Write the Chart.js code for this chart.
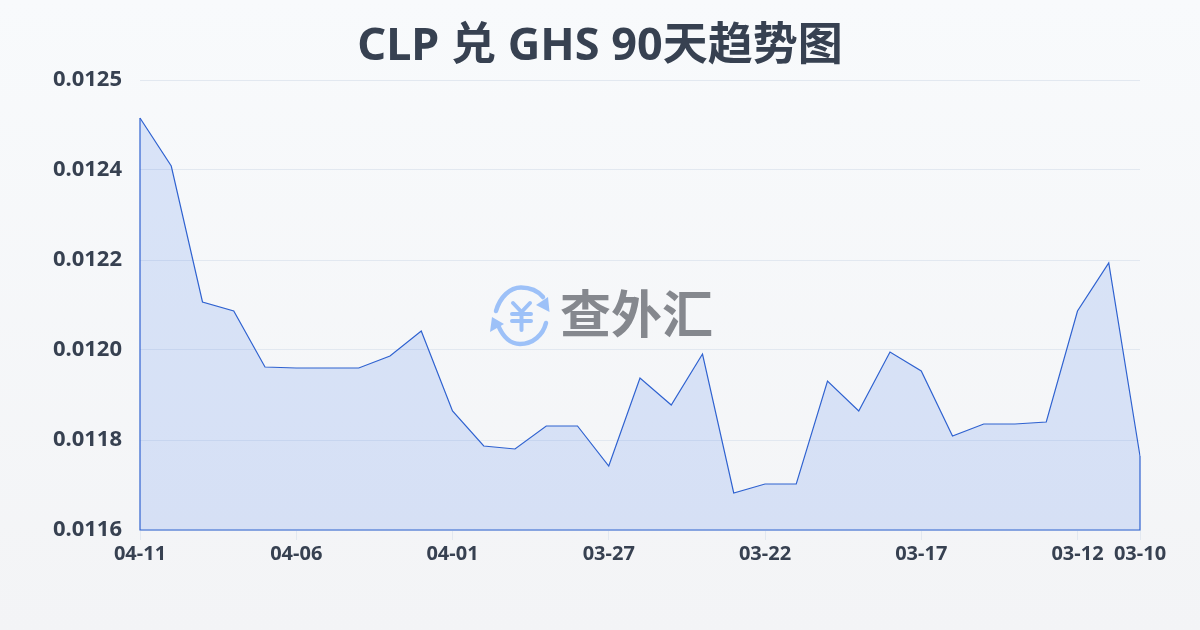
<!DOCTYPE html>
<html>
<head>
<meta charset="utf-8">
<title>CLP 兑 GHS 90天趋势图</title>
<script src="https://cdn.jsdelivr.net/npm/chart.js@4"></script>
<style>
    html, body { margin: 0; padding: 0; }
    body { width: 1200px; height: 630px; overflow: hidden; background: linear-gradient(180deg, #f8fafc, #f3f4f6); }
    canvas { display: block; }
</style>
</head>
<body>
<canvas id="chart" width="1200" height="630"></canvas>
<script>
const titleText = 'CLP 兑 GHS 90天趋势图';
const watermarkText = '查外汇';
const fontFamily = '"Noto Sans", "Noto Sans CJK SC", sans-serif';

const dates = [
    '04-11', '04-10', '04-09', '04-08', '04-07', '04-06', '04-05', '04-04', '04-03', '04-02', '04-01',
    '03-31', '03-30', '03-29', '03-28', '03-27', '03-26', '03-25', '03-24', '03-23', '03-22',
    '03-21', '03-20', '03-19', '03-18', '03-17', '03-16', '03-15', '03-14', '03-13', '03-12', '03-11', '03-10'
];
const rates = [
    0.012464, 0.012368, 0.012096, 0.012078, 0.011966, 0.011964, 0.011964, 0.011964, 0.011988, 0.012038, 0.011878,
    0.011808, 0.011802, 0.011848, 0.011848, 0.011768, 0.011944, 0.011890, 0.011992, 0.011714, 0.011732,
    0.011732, 0.011938, 0.011878, 0.011996, 0.011958, 0.011828, 0.011852, 0.011852, 0.011856, 0.012078, 0.012174, 0.011788
];
const xTickDates = ['04-11', '04-06', '04-01', '03-27', '03-22', '03-17', '03-12', '03-10'];
const yMin = 0.01164;
const yMax = 0.01254;
const yStep = 0.00018;

// y labels are wider than the axis box once the title is centred, stop them being clipped
const unclipYLabels = {
    id: 'unclipYLabels',
    afterLayout(chart) {
        chart.scales.y.left = 0;
    }
};

// closes the line down to the axis, the fill plugin only fills it
const areaOutline = {
    id: 'areaOutline',
    afterDatasetsDraw(chart) {
        const points = chart.getDatasetMeta(0).data;
        const first = points[0];
        const last = points[points.length - 1];
        const bottom = chart.chartArea.bottom;
        const ctx = chart.ctx;
        ctx.save();
        ctx.strokeStyle = '#2f62d0';
        ctx.lineWidth = 1.2;
        ctx.beginPath();
        ctx.moveTo(first.x, first.y);
        ctx.lineTo(first.x, bottom);
        ctx.lineTo(last.x, bottom);
        ctx.lineTo(last.x, last.y);
        ctx.stroke();
        ctx.restore();
    }
};

// logo in the middle of the plot
const watermark = {
    id: 'watermark',
    beforeDatasetsDraw(chart) {
        const ctx = chart.ctx;
        ctx.save();
        ctx.strokeStyle = '#9dc1f8';
        ctx.fillStyle = '#9dc1f8';
        ctx.lineWidth = 4.5;
        ctx.lineCap = 'round';
        ctx.lineJoin = 'round';
        ctx.beginPath();
        ctx.moveTo(496, 311);
        ctx.bezierCurveTo(500, 297, 510, 287.5, 521, 287.5);
        ctx.bezierCurveTo(530, 287.5, 538, 291, 543, 297);
        ctx.moveTo(498, 325);
        ctx.bezierCurveTo(503, 337, 511, 344, 520, 344);
        ctx.bezierCurveTo(533, 344, 543, 335, 546, 323);
        ctx.stroke();
        // arrow heads
        ctx.beginPath();
        ctx.moveTo(548, 297);
        ctx.lineTo(549.5, 312);
        ctx.lineTo(536, 305);
        ctx.closePath();
        ctx.moveTo(492, 317);
        ctx.lineTo(490, 332);
        ctx.lineTo(504, 324);
        ctx.closePath();
        ctx.fill();
        // yen sign
        ctx.lineWidth = 4;
        ctx.beginPath();
        ctx.moveTo(513, 303);
        ctx.lineTo(521.5, 312);
        ctx.lineTo(530, 303);
        ctx.moveTo(521.5, 312);
        ctx.lineTo(521.5, 330);
        ctx.moveTo(512, 314);
        ctx.lineTo(531, 314);
        ctx.moveTo(512, 321);
        ctx.lineTo(531, 321);
        ctx.stroke();
        ctx.fillStyle = '#85888e';
        ctx.font = 'bold 51px ' + fontFamily;
        ctx.textAlign = 'left';
        ctx.textBaseline = 'middle';
        ctx.fillText(watermarkText, 560, 318);
        ctx.restore();
    }
};

new Chart(document.getElementById('chart').getContext('2d'), {
    type: 'line',
    data: {
        labels: dates,
        datasets: [{
            data: rates,
            borderColor: '#2f62d0',
            borderWidth: 1.2,
            backgroundColor: 'rgba(37, 99, 235, 0.14)',
            fill: 'origin',
            tension: 0,
            pointRadius: 0
        }]
    },
    plugins: [watermark, areaOutline, unclipYLabels],
    options: {
        responsive: false,
        animation: false,
        layout: { padding: { top: 22, right: 60, bottom: 50, left: 60 } },
        plugins: {
            legend: { display: false },
            tooltip: { enabled: false },
            title: {
                display: true,
                text: titleText,
                color: '#374151',
                font: { family: fontFamily, size: 45, weight: 'bold', lineHeight: 1.1 },
                padding: { top: 0, bottom: 8.5 }
            }
        },
        scales: {
            x: {
                offset: false,
                grid: { drawOnChartArea: false, drawTicks: true, tickLength: 10, color: '#e2e8f0' },
                border: { display: false },
                afterBuildTicks(axis) {
                    axis.ticks = axis.ticks.filter(t => xTickDates.includes(dates[t.value]));
                },
                afterFit(axis) { axis.height = 50; },
                ticks: {
                    autoSkip: false,
                    maxRotation: 0,
                    color: '#374151',
                    padding: 2,
                    font: { family: fontFamily, size: 20, weight: 'bold' }
                }
            },
            y: {
                min: yMin,
                max: yMax,
                grid: { color: '#e2e8f0', drawTicks: false },
                border: { display: false },
                afterFit(axis) { axis.width = 80; },
                ticks: {
                    stepSize: yStep,
                    padding: 18,
                    color: '#374151',
                    font: { family: fontFamily, size: 22, weight: 'bold' },
                    callback: value => value.toFixed(4)
                }
            }
        }
    }
});
</script>
</body>
</html>
